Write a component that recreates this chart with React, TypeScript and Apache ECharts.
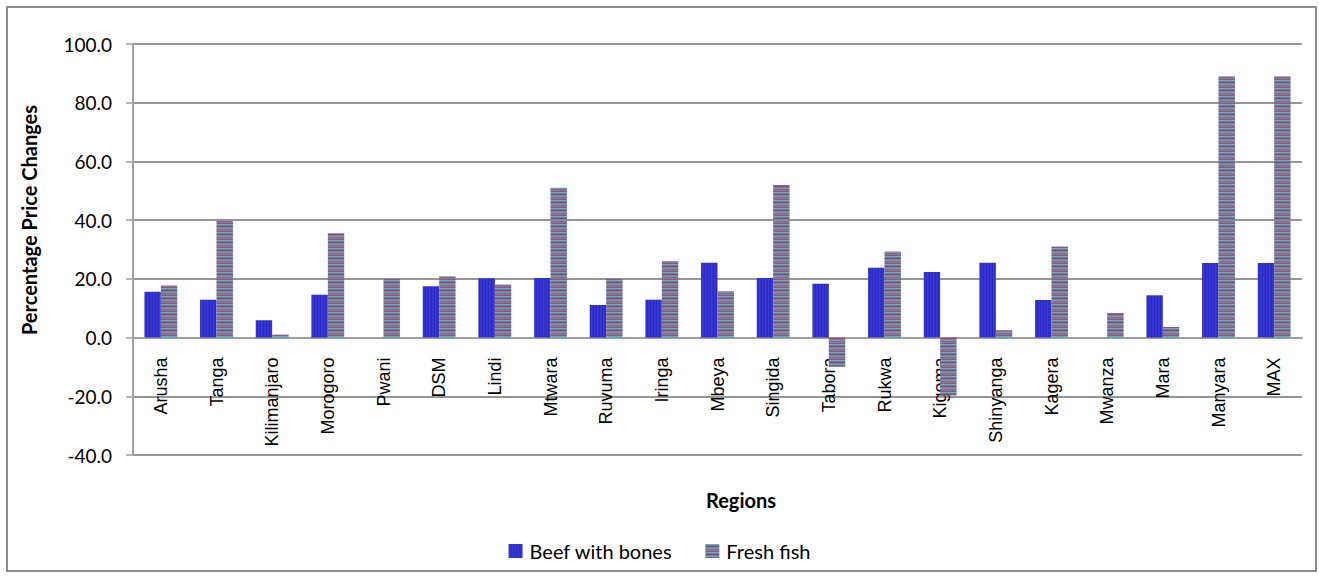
import React, { useEffect, useRef } from "react";
import * as echarts from "echarts";

const categories = ["Arusha", "Tanga", "Kilimanjaro", "Morogoro", "Pwani", "DSM", "Lindi", "Mtwara", "Ruvuma", "Iringa", "Mbeya", "Singida", "Tabora", "Rukwa", "Kigoma", "Shinyanga", "Kagera", "Mwanza", "Mara", "Manyara", "MAX"];
const beefWithBones = [15.6, 12.9, 5.9, 14.6, 0, 17.5, 20.2, 20.3, 11.1, 12.9, 25.5, 20.3, 18.3, 23.8, 22.3, 25.5, 12.8, 0, 14.4, 25.4, 25.4];
const freshFish = [17.7, 40.0, 1.0, 35.5, 20.0, 20.9, 18.1, 51.0, 20.0, 26.0, 15.8, 52.0, -10.0, 29.3, -19.7, 2.5, 31.0, 8.4, 3.6, 89.0, 89.0];
const seriesNames = ["Beef with bones", "Fresh fish"];
const yTicks = { min: -40, max: 100, interval: 20 };

function makeBeefPattern() {
  const c = document.createElement("canvas");
  c.width = 6;
  c.height = 2;
  const ctx = c.getContext("2d")!;
  const cols = ["#3636d4", "#3434d0", "#2828c2", "#3c3cd0", "#3333cc", "#2a2ac6"];
  cols.forEach((col, i) => {
    ctx.fillStyle = col;
    ctx.fillRect(i, 0, 1, 2);
  });
  return c;
}

function makeFishPattern() {
  const c = document.createElement("canvas");
  c.width = 2;
  c.height = 8;
  const ctx = c.getContext("2d")!;
  const cols = ["#33c8c8", "#8e6a8e", "#a03c78", "#7f8098", "#45b4bc", "#9a5a86", "#808090", "#a44a7e"];
  cols.forEach((col, i) => {
    ctx.fillStyle = col;
    ctx.fillRect(0, i, 2, 1);
  });
  return c;
}

const GRID = { left: 133, right: 17, top: 44, bottom: 123 };
const H = 578;

export default function App() {
  const ref = useRef<HTMLDivElement>(null);
  useEffect(() => {
    if (!ref.current) return;
    const chart = echarts.init(ref.current, null, { renderer: "svg" });
    const beefColor: any = { image: makeBeefPattern(), repeat: "repeat" };
    const fishColor: any = { image: makeFishPattern(), repeat: "repeat" };
    const calibri = "Lato, 'Open Sans', sans-serif";
    const plotH = H - GRID.top - GRID.bottom;
    const zeroOffset = -plotH * (0 - yTicks.min) / (yTicks.max - yTicks.min);
    chart.setOption({
      animation: false,
      backgroundColor: "#ffffff",
      grid: { ...GRID, containLabel: false },
      legend: {
        bottom: 12,
        left: "center",
        itemWidth: 14,
        itemHeight: 14,
        itemGap: 33,
        icon: "rect",
        textStyle: { fontFamily: calibri, fontSize: 20, color: "#000", padding: [0, 0, 0, 2] },
        data: seriesNames,
      },
      xAxis: {
        type: "category",
        data: categories,
        offset: zeroOffset,
        axisLine: { onZero: false, lineStyle: { color: "#a0a0a0", width: 2 } },
        axisTick: { show: false },
        axisLabel: {
          rotate: 90,
          interval: 0,
          margin: 20,
          fontFamily: "'Liberation Sans', Arial, sans-serif",
          fontSize: 18,
          color: "#000",
        },
        z: 1,
      },
      yAxis: {
        type: "value",
        min: yTicks.min,
        max: yTicks.max,
        interval: yTicks.interval,
        axisLine: { show: true, lineStyle: { color: "#a0a0a0", width: 2 } },
        axisTick: { show: true, length: 7, inside: false, lineStyle: { color: "#a0a0a0", width: 1.5 } },
        splitLine: { show: true, lineStyle: { color: "#969696", width: 2 } },
        axisLabel: {
          margin: 21,
          fontFamily: calibri,
          fontSize: 19,
          color: "#000",
          formatter: (v: number) => v.toFixed(1),
        },
      },
      graphic: [
        {
          type: "rect",
          shape: { x: 7, y: 7, width: 1309, height: 564 },
          style: { fill: "none", stroke: "#8c8c8c", lineWidth: 2 },
          silent: true,
        },
        {
          type: "text",
          x: 29,
          y: 220,
          rotation: Math.PI / 2,
          style: {
            text: "Percentage Price Changes",
            font: "bold 20px Lato, 'Open Sans', sans-serif",
            fill: "#000",
            align: "center",
            verticalAlign: "middle",
          },
        },
        {
          type: "text",
          x: 741,
          y: 500,
          style: {
            text: "Regions",
            font: "bold 20px Lato, 'Open Sans', sans-serif",
            fill: "#000",
            align: "center",
            verticalAlign: "middle",
          },
        },
      ],
      series: [
        {
          name: seriesNames[0],
          type: "bar",
          data: beefWithBones,
          barGap: "0%",
          barCategoryGap: "41%",
          itemStyle: { color: beefColor },
          z: 2,
        },
        {
          name: seriesNames[1],
          type: "bar",
          data: freshFish,
          barGap: "0%",
          barCategoryGap: "41%",
          itemStyle: { color: fishColor },
          z: 2,
        },
      ],
    });
    return () => chart.dispose();
  }, []);
  return (
    <div
      ref={ref}
      style={{ position: "fixed", left: 0, top: 0, width: 1319, height: 578, background: "#fff" }}
    />
  );
}
